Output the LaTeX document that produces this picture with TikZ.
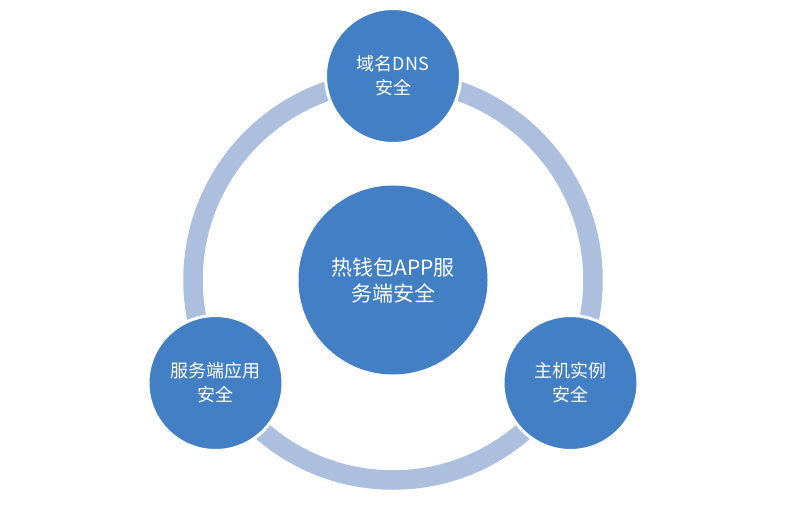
\documentclass[tikz,border=0pt]{standalone}
\usepackage{fontspec}
\newfontfamily\cjk{Noto Sans CJK SC}
\definecolor{cblue}{RGB}{66,127,196}
\definecolor{ringc}{RGB}{173,191,222}
\tikzset{
  ring/.style={draw=ringc, line width=19.5pt},
  bigc/.style={circle, fill=cblue, inner sep=0pt, minimum size=189pt, text=white, align=center,
    font=\cjk\fontsize{21pt}{26pt}\selectfont},
  smallc/.style={circle, fill=cblue, draw=white, line width=3pt, inner sep=0pt, minimum size=135pt,
    text=white, align=center, font=\cjk\fontsize{18pt}{24pt}\selectfont}
}
\begin{document}
\begin{tikzpicture}[x=1pt,y=-1pt]
\useasboundingbox (0,0) rectangle (800,505);
\coordinate (o) at (393,280);
\draw[ring] (o) circle[radius=200pt];
\node[bigc] (c) at (o) {热钱包APP服\\务端安全};
\node[smallc] (t) at (393,76) {域名DNS\\安全};
\node[smallc] (l) at (215.5,383) {服务端应用\\安全};
\node[smallc] (r) at (570.5,383) {主机实例\\安全};
\end{tikzpicture}
\end{document}
